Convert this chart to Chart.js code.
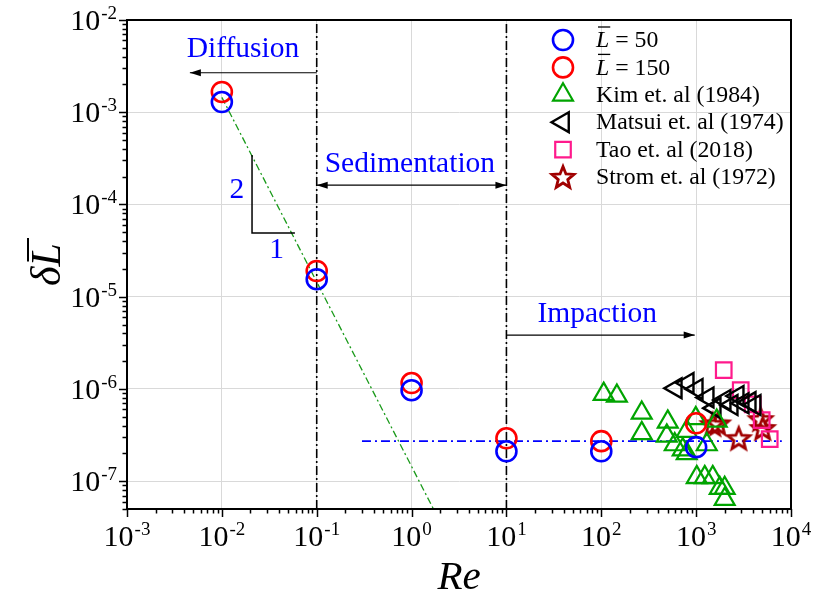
<!DOCTYPE html>
<html>
<head>
<meta charset="utf-8">
<script src="https://cdn.jsdelivr.net/npm/chart.js@4.4.1/dist/chart.umd.min.js"></script>
<style>
  html, body { margin: 0; padding: 0; background: #fff; }
  #wrap { width: 814px; height: 598px; }
</style>
</head>
<body>
<div id="wrap"><canvas id="chart" width="814" height="598"></canvas></div>
<script>
// values: Re on x, delta*Lbar on y
const reSim = [0.01, 0.1, 1, 10, 100, 1000];
const dL50 = [1.29e-3, 1.55e-5, 9.7e-7, 2.11e-7, 2.11e-7, 2.34e-7];
const dL150 = [1.66e-3, 1.9e-5, 1.16e-6, 2.92e-7, 2.72e-7, 4.25e-7];

const kimRe = [106, 146, 267, 267, 502, 490, 595, 722, 796, 796, 990, 1294, 1648, 1015, 1232, 1496, 1773, 2000, 2000];
const kimDL = [8.8e-7, 8.4e-7, 5.5e-7, 3.3e-7, 4.4e-7, 3.1e-7, 2.5e-7, 2.2e-7, 3.5e-7, 2.0e-7, 4.8e-7, 2.5e-7, 4.5e-7, 1.1e-7, 1.1e-7, 1.1e-7, 8.4e-8, 8.4e-8, 6.4e-8];

const matsuiRe = [610, 815, 1015, 1324, 1570, 2000, 2371, 2743, 3097, 3673, 4141];
const matsuiDL = [1.02e-6, 1.16e-6, 1.0e-6, 8.1e-7, 6.2e-7, 7.6e-7, 6.7e-7, 8.4e-7, 7.0e-7, 7.2e-7, 6.7e-7];

const taoRe = [1954, 2951, 3948, 4909, 5967];
const taoDL = [1.6e-6, 9.7e-7, 6.8e-7, 4.6e-7, 2.86e-7];

const stromRe = [1496, 1690, 2812, 4797, 5035];
const stromDL = [4.15e-7, 4.23e-7, 2.92e-7, 4.7e-7, 3.76e-7];

// guide lines
const slopeRe = [0.01, 1.7];
const slopeDL = [1.45e-3, 5.0e-8];
const plateauRe = [0.3, 8000];
const plateauDL = [2.72e-7, 2.72e-7];
const regimeRe = [0.1, 10];

// axes
const xDecades = [-3, -2, -1, 0, 1, 2, 3, 4];
const yDecades = [-7, -6, -5, -4, -3, -2];
const xMin = 1e-3, xMax = 1e4, yMin = 5e-8, yMax = 1e-2;

const legendLabels = ['L\u0304 = 50', 'L\u0304 = 150', 'Kim et. al (1984)', 'Matsui et. al (1974)', 'Tao et. al (2018)', 'Strom et. al (1972)'];

// regime annotations, in data coordinates
const regimeText = ['Diffusion', 'Sedimentation', 'Impaction'];
const regimeTextAt = [[0.0167, 3.97e-3], [0.96, 2.24e-4], [90.8, 5.3e-6]];
const regimeArrows = [
  { from: [0.1, 2.68e-3], to: [4.6e-3, 2.68e-3], both: false },
  { from: [0.1, 1.62e-4], to: [10, 1.62e-4], both: true },
  { from: [10, 3.84e-6], to: [966, 3.84e-6], both: false }
];
const slopeTri = [[0.0208, 3.44e-4], [0.0208, 4.9e-5], [0.0589, 4.9e-5]];
const slopeText = ['2', '1'];
const slopeTextAt = [[0.0144, 1.17e-4], [0.0377, 2.62e-5]];

const SERIF = "'Liberation Serif', 'Times New Roman', serif";

const pts = (xs, ys) => xs.map((x, i) => ({ x: x, y: ys[i] }));

function decadeTicks(decs, lo, hi) {
  const out = [];
  decs.forEach(d => {
    for (let m = 1; m <= 9; m++) {
      const v = m * Math.pow(10, d);
      if (v >= lo * 0.999 && v <= hi * 1.001) out.push({ value: v, major: m === 1 });
    }
  });
  return out;
}

// hollow 5-point star for Strom
const starStyle = (() => {
  const c = document.createElement('canvas');
  c.width = 30; c.height = 30;
  const g = c.getContext('2d');
  g.strokeStyle = '#a00000';
  g.lineWidth = 2.8;
  g.beginPath();
  for (let i = 0; i < 10; i++) {
    const r = i % 2 ? 5 : 11.5;
    const a = -Math.PI / 2 + i * Math.PI / 5;
    const X = 15 + r * Math.cos(a), Y = 16 + r * Math.sin(a);
    if (i) g.lineTo(X, Y); else g.moveTo(X, Y);
  }
  g.closePath();
  g.stroke();
  return c;
})();

function drawMarker(ctx, ds, x, y) {
  const r = ds.pointRadius;
  if (ds.pointStyle instanceof HTMLCanvasElement) {
    ctx.drawImage(ds.pointStyle, x - ds.pointStyle.width / 2, y - ds.pointStyle.height / 2);
    return;
  }
  ctx.save();
  ctx.strokeStyle = ds.borderColor;
  ctx.lineWidth = ds.borderWidth;
  ctx.beginPath();
  if (ds.pointStyle === 'circle') {
    ctx.arc(x, y, r, 0, Math.PI * 2);
  } else if (ds.pointStyle === 'triangle') {
    let rad = (ds.pointRotation || 0) * Math.PI / 180;
    for (let k = 0; k < 3; k++) {
      const X = x + Math.sin(rad) * r, Y = y - Math.cos(rad) * r;
      if (k) ctx.lineTo(X, Y); else ctx.moveTo(X, Y);
      rad += 2 * Math.PI / 3;
    }
    ctx.closePath();
  } else if (ds.pointStyle === 'rect') {
    const s = r / Math.SQRT2;
    ctx.rect(x - s, y - s, 2 * s, 2 * s);
  }
  ctx.stroke();
  ctx.restore();
}

function arrowHead(ctx, x, y, dir) {
  ctx.beginPath();
  ctx.moveTo(x, y);
  ctx.lineTo(x - dir * 11, y - 3.5);
  ctx.lineTo(x - dir * 11, y + 3.5);
  ctx.closePath();
  ctx.fill();
}

// "10" with a raised exponent
function powLabel(ctx, exp, x, y, align) {
  ctx.font = '30px ' + SERIF;
  const w1 = ctx.measureText('10').width;
  const sup = String(exp);
  ctx.font = '19px ' + SERIF;
  const w2 = ctx.measureText(sup).width;
  const total = w1 + 1 + w2;
  const start = align === 'center' ? x - total / 2 : x - total;
  ctx.textAlign = 'left';
  ctx.textBaseline = 'alphabetic';
  ctx.font = '30px ' + SERIF;
  ctx.fillText('10', start, y);
  ctx.font = '19px ' + SERIF;
  ctx.fillText(sup, start + w1 + 1, y - 11);
}

const decorPlugin = {
  id: 'decor',
  afterDraw(chart) {
    const ctx = chart.ctx;
    const a = chart.chartArea;
    const sx = chart.scales.x, sy = chart.scales.y;
    const P = (re, v) => [sx.getPixelForValue(re), sy.getPixelForValue(v)];
    ctx.save();

    // frame
    ctx.strokeStyle = '#000';
    ctx.lineWidth = 2;
    ctx.strokeRect(a.left, a.top, a.right - a.left, a.bottom - a.top);

    // tick marks, outside
    ctx.lineWidth = 1.5;
    ctx.beginPath();
    sx.ticks.forEach(t => {
      const xp = Math.round(sx.getPixelForValue(t.value)) + 0.5;
      ctx.moveTo(xp, a.bottom);
      ctx.lineTo(xp, a.bottom + (t.major ? 8 : 4.5));
    });
    sy.ticks.forEach(t => {
      const yp = Math.round(sy.getPixelForValue(t.value)) + 0.5;
      ctx.moveTo(a.left, yp);
      ctx.lineTo(a.left - (t.major ? 8 : 4.5), yp);
    });
    ctx.stroke();

    // tick labels
    ctx.fillStyle = '#000';
    xDecades.forEach(d => powLabel(ctx, d, sx.getPixelForValue(Math.pow(10, d)), a.bottom + 37, 'center'));
    yDecades.forEach(d => powLabel(ctx, d, a.left - 10, sy.getPixelForValue(Math.pow(10, d)) + 10, 'right'));

    // axis titles
    ctx.font = 'italic 41px ' + SERIF;
    ctx.textAlign = 'center';
    ctx.textBaseline = 'alphabetic';
    ctx.fillText('Re', (a.left + a.right) / 2, 589);

    ctx.save();
    ctx.translate(60, (a.top + a.bottom) / 2);
    ctx.rotate(-Math.PI / 2);
    ctx.font = 'italic 42px ' + SERIF;
    ctx.textAlign = 'left';
    const wd = ctx.measureText('\u03b4').width;
    const wl = ctx.measureText('L').width;
    const x0 = -(wd + wl) / 2;
    ctx.fillText('\u03b4', x0, 0);
    ctx.fillText('L', x0 + wd, 0);
    ctx.lineWidth = 2;
    ctx.beginPath();
    ctx.moveTo(x0 + wd + 5, -32);
    ctx.lineTo(x0 + wd + wl + 5, -32);
    ctx.stroke();
    ctx.restore();

    // regime arrows
    ctx.strokeStyle = '#000';
    ctx.fillStyle = '#000';
    ctx.lineWidth = 1.2;
    regimeArrows.forEach(ar => {
      const [x1, y1] = P(ar.from[0], ar.from[1]);
      const [x2, y2] = P(ar.to[0], ar.to[1]);
      ctx.beginPath();
      ctx.moveTo(x1, y1);
      ctx.lineTo(x2, y2);
      ctx.stroke();
      const dir = x2 > x1 ? 1 : -1;
      arrowHead(ctx, x2, y2, dir);
      if (ar.both) arrowHead(ctx, x1, y1, -dir);
    });

    // slope triangle
    ctx.lineWidth = 1.5;
    ctx.beginPath();
    slopeTri.forEach((p, i) => {
      const [xp, yp] = P(p[0], p[1]);
      if (i) ctx.lineTo(xp, yp); else ctx.moveTo(xp, yp);
    });
    ctx.stroke();

    // blue annotation text
    ctx.fillStyle = '#0000ff';
    ctx.textAlign = 'center';
    ctx.textBaseline = 'alphabetic';
    ctx.font = '29.5px ' + SERIF;
    regimeText.forEach((t, i) => {
      const [xp, yp] = P(regimeTextAt[i][0], regimeTextAt[i][1]);
      ctx.fillText(t, xp, yp);
    });
    slopeText.forEach((t, i) => {
      const [xp, yp] = P(slopeTextAt[i][0], slopeTextAt[i][1]);
      ctx.fillText(t, xp, yp);
    });

    // legend
    const rows = chart.data.datasets.filter(ds => ds.label);
    const mx = 563, tx = 596, top = 40, step = 27.4;
    ctx.textAlign = 'left';
    ctx.textBaseline = 'middle';
    rows.forEach((ds, i) => {
      const y = top + i * step;
      drawMarker(ctx, ds, mx, y);
      ctx.fillStyle = '#000';
      if (ds.label.startsWith('L\u0304')) {
        ctx.font = 'italic 23.8px ' + SERIF;
        const wL = ctx.measureText('L').width;
        ctx.fillText('L', tx, y + 1);
        ctx.lineWidth = 1.3;
        ctx.strokeStyle = '#000';
        ctx.beginPath();
        ctx.moveTo(tx + 2, y - 13);
        ctx.lineTo(tx + wL + 1, y - 13);
        ctx.stroke();
        ctx.font = '23.8px ' + SERIF;
        ctx.fillText(ds.label.slice(2), tx + wL, y + 1);
      } else {
        ctx.font = '23.8px ' + SERIF;
        ctx.fillText(ds.label, tx, y + 1);
      }
    });

    ctx.restore();
  }
};

const hollow = 'rgba(0,0,0,0)';

new Chart(document.getElementById('chart'), {
  type: 'scatter',
  data: {
    datasets: [
      { label: legendLabels[0], data: pts(reSim, dL50), pointStyle: 'circle', pointRadius: 10, borderColor: '#0000ff', borderWidth: 2.6, backgroundColor: hollow },
      { label: legendLabels[1], data: pts(reSim, dL150), pointStyle: 'circle', pointRadius: 10, borderColor: '#ff0000', borderWidth: 2.6, backgroundColor: hollow },
      { label: legendLabels[2], data: pts(kimRe, kimDL), pointStyle: 'triangle', pointRadius: 11.5, borderColor: '#00a400', borderWidth: 2.2, backgroundColor: hollow },
      { label: legendLabels[3], data: pts(matsuiRe, matsuiDL), pointStyle: 'triangle', pointRotation: -90, pointRadius: 11.5, borderColor: '#000000', borderWidth: 2.4, backgroundColor: hollow },
      { label: legendLabels[4], data: pts(taoRe, taoDL), pointStyle: 'rect', pointRadius: 11, borderColor: '#ff1a8c', borderWidth: 2.2, backgroundColor: hollow },
      { label: legendLabels[5], data: pts(stromRe, stromDL), pointStyle: starStyle, pointRadius: 11, borderColor: '#a00000', borderWidth: 2, backgroundColor: hollow },
      { data: pts(slopeRe, slopeDL), showLine: true, pointRadius: 0, borderColor: '#1a9a1a', borderWidth: 1.3, borderDash: [7, 3, 2, 3] },
      { data: pts(plateauRe, plateauDL), showLine: true, pointRadius: 0, borderColor: '#0000ff', borderWidth: 1.6, borderDash: [9, 4, 2, 4] },
      { data: pts([regimeRe[0], regimeRe[0]], [yMin, yMax]), showLine: true, pointRadius: 0, borderColor: '#000', borderWidth: 1.6, borderDash: [9, 3, 2, 3] },
      { data: pts([regimeRe[1], regimeRe[1]], [yMin, yMax]), showLine: true, pointRadius: 0, borderColor: '#000', borderWidth: 1.6, borderDash: [9, 3, 2, 3] }
    ]
  },
  options: {
    responsive: false,
    animation: false,
    events: [],
    layout: { padding: { left: 127, right: 23, top: 20, bottom: 89 } },
    plugins: { legend: { display: false }, tooltip: { enabled: false } },
    scales: {
      x: {
        type: 'logarithmic', min: xMin, max: xMax,
        afterBuildTicks: s => { s.ticks = decadeTicks(xDecades, xMin, xMax); },
        afterFit: s => { s.height = 0; },
        ticks: { display: false },
        grid: { drawTicks: false, lineWidth: 1, color: c => (c.tick && c.tick.major) ? '#d9d9d9' : 'rgba(0,0,0,0)' },
        border: { color: '#000', width: 2 }
      },
      y: {
        type: 'logarithmic', min: yMin, max: yMax,
        afterBuildTicks: s => { s.ticks = decadeTicks([-8].concat(yDecades), yMin, yMax); },
        afterFit: s => { s.width = 0; },
        ticks: { display: false },
        grid: { drawTicks: false, lineWidth: 1, color: c => (c.tick && c.tick.major) ? '#d9d9d9' : 'rgba(0,0,0,0)' },
        border: { color: '#000', width: 2 }
      }
    }
  },
  plugins: [decorPlugin]
});
</script>
</body>
</html>
